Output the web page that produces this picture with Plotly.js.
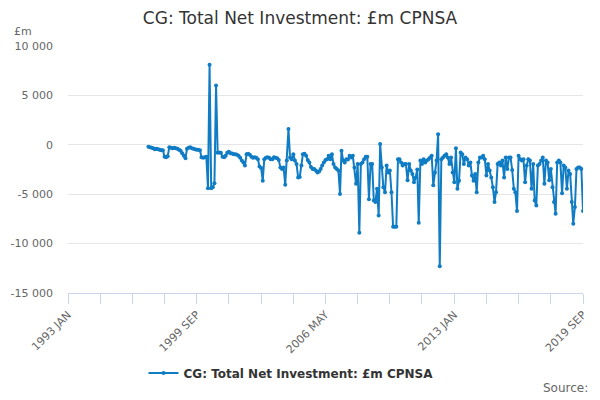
<!DOCTYPE html>
<html>
<head>
<meta charset="utf-8">
<script src="https://cdn.plot.ly/plotly-3.0.1.min.js"></script>
<style>
  html, body { margin: 0; padding: 0; background: #fff; }
  #chart { width: 600px; height: 400px; }
</style>
</head>
<body>
<div id="chart"></div>
<script>
// series starts March 1997, one value per month (£m)
const startYear = 1997;
const startMonth = 3;
const netInvestment = [
  -200, -250, -300, -350, -450, -400, -450, -500, -550, -550,                 // 1997 Mar-Dec
  -1200, -1250, -1150, -250, -300, -350, -300, -350, -400, -500, -600, -850,  // 1998
  -1100, -1350, -400, -300, -250, -350, -400, -450, -500, -500, -550, -1250,  // 1999
  -1300, -1250, -1200, -4400, 8100, -4400, -4300, -3900, 6000, -800, -780, -800, // 2000
  -1200, -1250, -1100, -800, -700, -850, -880, -950, -950, -1000, -1100, -1300,  // 2001
  -1600, -1800, -2100, -950, -900, -1000, -1200, -1300, -1250, -1300, -1450, -2200, // 2002
  -2350, -3650, -1450, -1300, -1250, -1300, -1450, -1450, -1250, -1300, -1350, -1550, // 2003
  -2300, -2450, -2300, -4050, -1600, 1600, -1280, -1450, -950, -1600, -1950, -3300,   // 2004
  -3250, -2100, -950, -900, -1100, -1550, -1800, -2250, -2450, -2450, -2600, -2800,   // 2005
  -2700, -2450, -2100, -1800, -1550, -1450, -1100, -1450, -950, -1950, -2300, -2450,  // 2006
  -2600, -4970, -600, -1600, -1800, -1450, -1500, -1100, -1280, -1100, -2300, -3950,  // 2007
  -1950, -8900, -1950, -1800, -1450, -1200, -1200, -5500, -1950, -1950, -5640, -5800, // 2008
  -4460, -7150, 70, -2300, -4300, -4800, -2100, -2800, -2600, -4800, -8300, -8300,    // 2009
  -8300, -1450, -1450, -1800, -2100, -1950, -1950, -3600, -1950, -2600, -2950, -3800, // 2010
  -3300, -2500, -7900, -1600, -1950, -1450, -1800, -1600, -1450, -1280, -1100, -4100, // 2011
  -2800, -1600, 1070, -12300, -1450, -1280, -1100, -950, -1280, -1950, -1280, -2800,  // 2012
  -3800, -350, -4460, -3650, -780, -950, -1950, -1280, -1450, -2100, -1800, -3100,    // 2013
  -3650, -2950, -4800, -1800, -1280, -1280, -1100, -1450, -3100, -1950, -2600, -3300, // 2014
  -4300, -5800, -4800, -1950, -1800, -2100, -1600, -3300, -1280, -2450, -1280, -1280, // 2015
  -2550, -4460, -4800, -6700, -1100, -1450, -1600, -1450, -3800, -2100, -1450, -1600, // 2016
  -4460, -1950, -5640, -6140, -2100, -1950, -1600, -1280, -3950, -1600, -1800, -3600, // 2017
  -2450, -4300, -5800, -6980, -1800, -1600, -1800, -4900, -2100, -2300, -4460, -2600, // 2018
  -2950, -5800, -7990, -6300, -2450, -2300, -2300, -2450, -6700                       // 2019 Jan-Sep
];

const xTickVals = [
  '1993-01-01', '1994-09-01', '1996-05-01', '1998-01-01',
  '1999-09-01', '2001-05-01', '2003-01-01', '2004-09-01',
  '2006-05-01', '2008-01-01', '2009-09-01', '2011-05-01',
  '2013-01-01', '2014-09-01', '2016-05-01', '2018-01-01', '2019-09-01'
];
const xTickText = [
  '1993 JAN', '', '', '',
  '1999 SEP', '', '', '',
  '2006 MAY', '', '', '',
  '2013 JAN', '', '', '', '2019 SEP'
];
const yTickVals = [10000, 5000, 0, -5000, -10000, -15000];
const yTickText = ['10 000', '5 000', '0', '-5 000', '-10 000', '-15 000'];

const seriesName = 'CG: Total Net Investment: £m CPNSA';

// month dates for each value
const dates = netInvestment.map((v, i) => {
    const idx = startMonth - 1 + i;
    const y = startYear + Math.floor(idx / 12);
    const m = (idx % 12) + 1;
    return `${y}-${String(m).padStart(2, '0')}-01`;
});

const FONT = 'DejaVu Sans, Verdana, sans-serif';

const trace = {
    x: dates,
    y: netInvestment,
    type: 'scatter',
    mode: 'lines+markers',
    name: seriesName,
    line: { color: '#0f7cc4', width: 2 },
    marker: { color: '#0f7cc4', size: 4 }
};

const layout = {
    width: 600,
    height: 400,
    paper_bgcolor: '#fff',
    plot_bgcolor: '#fff',
    font: { family: FONT, color: '#666' },
    margin: { l: 68, r: 17, t: 46, b: 107 },
    title: {
        text: 'CG: Total Net Investment: £m CPNSA',
        font: { family: FONT, size: 17, color: '#333' },
        x: 0.5,
        xanchor: 'center',
        y: 0.955,
        yanchor: 'middle'
    },
    xaxis: {
        type: 'date',
        range: ['1993-01-01', '2019-09-01'],
        tickmode: 'array',
        tickvals: xTickVals,
        ticktext: xTickText,
        tickangle: -45,
        ticks: 'outside',
        ticklen: 10,
        tickcolor: '#ccd6eb',
        tickwidth: 1,
        showline: true,
        linecolor: '#ccd6eb',
        linewidth: 1,
        showgrid: false,
        zeroline: false,
        tickfont: { family: FONT, size: 11, color: '#666' }
    },
    yaxis: {
        range: [-15000, 10000],
        tickmode: 'array',
        tickvals: yTickVals,
        ticktext: yTickText,
        showgrid: true,
        gridcolor: '#e6e6e6',
        gridwidth: 1,
        zeroline: false,
        showline: false,
        ticks: '',
        ticklabelstandoff: 14,
        tickfont: { family: FONT, size: 11, color: '#666' }
    },
    showlegend: true,
    legend: {
        orientation: 'h',
        x: 0.433,
        xanchor: 'center',
        y: -0.324,
        yanchor: 'middle',
        font: { family: FONT, size: 12, color: '#333', weight: 'bold' }
    },
    annotations: [
        {
            text: '£m',
            xref: 'paper', yref: 'paper',
            x: -0.109, xanchor: 'left',
            y: 1.057, yanchor: 'middle',
            showarrow: false,
            font: { family: FONT, size: 11, color: '#666' }
        },
        {
            text: 'Source:',
            xref: 'paper', yref: 'paper',
            x: 1.0136, xanchor: 'right',
            y: -0.385, yanchor: 'middle',
            showarrow: false,
            font: { family: FONT, size: 12, color: '#666' }
        }
    ]
};

Plotly.newPlot('chart', [trace], layout, { displayModeBar: false, staticPlot: true });
</script>
</body>
</html>
